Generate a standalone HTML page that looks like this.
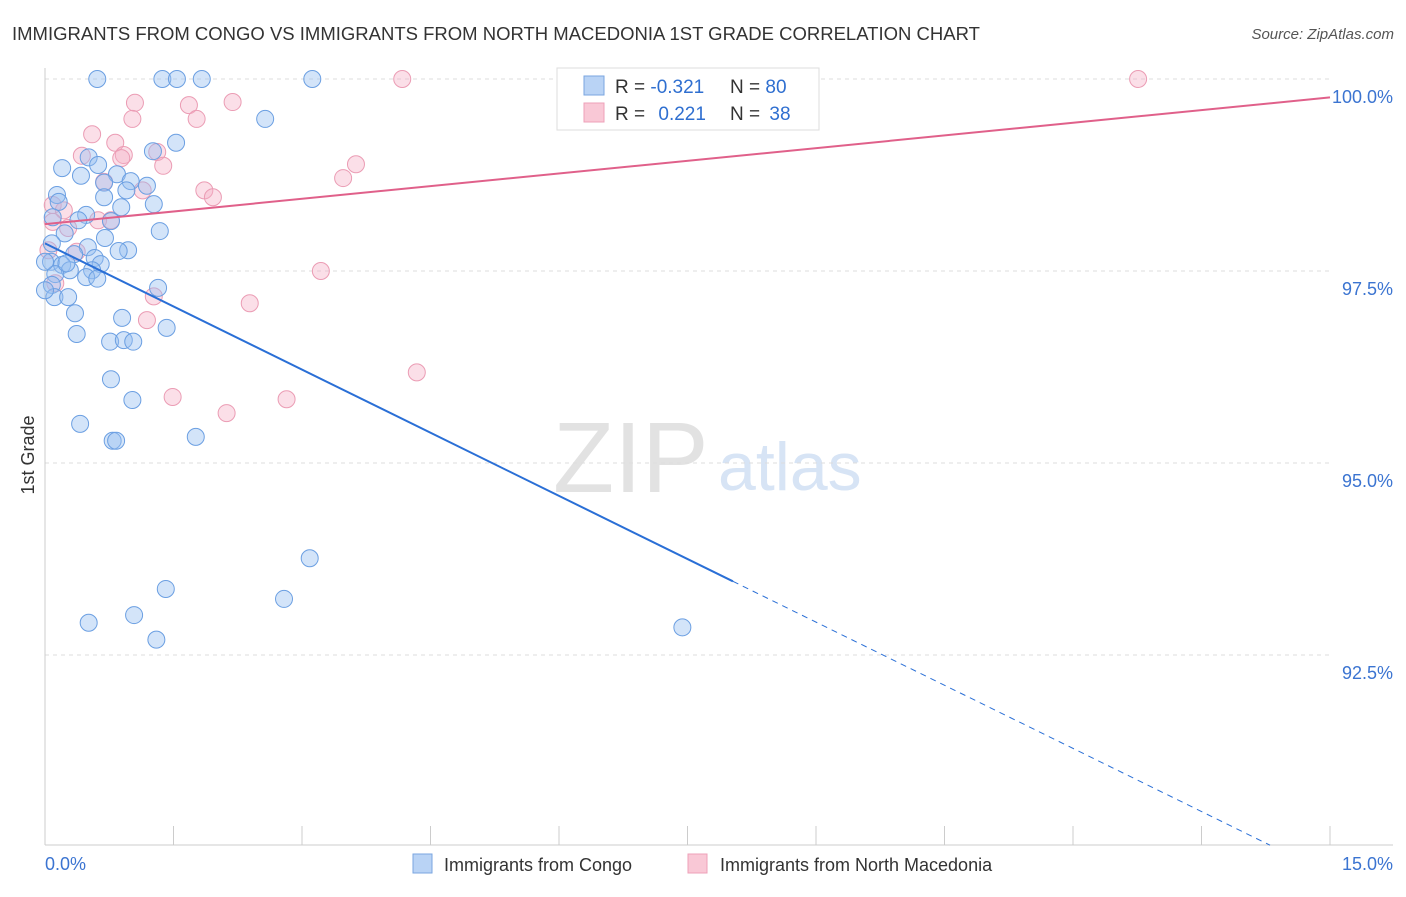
<!DOCTYPE html>
<html><head><meta charset="utf-8"><style>
body{margin:0;background:#fff;font-family:"Liberation Sans",sans-serif}
svg text{font-family:"Liberation Sans",sans-serif}
</style></head><body>
<svg id="chart" width="1406" height="892" viewBox="0 0 1406 892">
<text x="12" y="40" font-size="18.5" fill="#333">IMMIGRANTS FROM CONGO VS IMMIGRANTS FROM NORTH MACEDONIA 1ST GRADE CORRELATION CHART</text>
<text x="1394" y="39" font-size="15" fill="#555" font-style="italic" text-anchor="end">Source: ZipAtlas.com</text>
<g>
<text x="553" y="492" font-size="100" fill="#e2e2e2" font-family="Liberation Serif">ZIP</text>
<text x="718" y="490" font-size="68" fill="#d7e4f5">atlas</text>
</g>
<g id="grid"></g>
<g id="axes"></g>
<g id="marks"></g>
<g id="trends"></g>
<text transform="translate(34,455) rotate(-90)" font-size="18" fill="#333" text-anchor="middle">1st Grade</text>
<g>
<rect x="557" y="68" width="262" height="62" fill="#fff" stroke="#ddd"/>
<rect x="584" y="76" width="20" height="19" fill="#b9d3f5" stroke="#7aa6e0"/>
<rect x="584" y="103" width="20" height="19" fill="#f9c8d6" stroke="#eea0b8"/>
<text x="615" y="93" font-size="19" fill="#333">R = <tspan fill="#2f6fd0">-0.321</tspan></text>
<text x="730" y="93" font-size="19" fill="#333">N = <tspan fill="#2f6fd0">80</tspan></text>
<text x="615" y="120" font-size="19" fill="#333">R = <tspan fill="#2f6fd0" dx="8">0.221</tspan></text>
<text x="730" y="120" font-size="19" fill="#333">N = <tspan fill="#2f6fd0" dx="4">38</tspan></text>
</g>
<g>
<rect x="413" y="854" width="19" height="19" fill="#b9d3f5" stroke="#7aa6e0"/>
<text x="444" y="871" font-size="18" fill="#333">Immigrants from Congo</text>
<rect x="688" y="854" width="19" height="19" fill="#f9c8d6" stroke="#eea0b8"/>
<text x="720" y="871" font-size="18" fill="#333">Immigrants from North Macedonia</text>
</g>
</svg>
<script>
const yTicks=[100,97.5,95,92.5];
const yTickLabels=["100.0%","97.5%","95.0%","92.5%"];
const xTicks=[0,1.5,3,4.5,6,7.5,9,10.5,12,13.5,15];
const xTickLabels=["0.0%","15.0%"];
const congoX=[0.61,1.37,1.54,1.83,3.12,2.57,1.53,1.26,0.51,0.62,0.20,0.42,0.84,1.00,0.69,1.19,0.14,0.95,0.69,1.27,0.16,0.89,0.48,0.09,0.39,0.77,1.34,0.23,0.70,0.08,0.50,0.97,0.34,0.86,0.58,0.07,0.20,0.65,0.29,0.55,0.48,0.12,0.61,0.08,1.32,0.11,0.27,0.35,0.90,1.42,0.37,0.76,0.92,1.03,0.77,1.02,0.41,0.79,0.83,1.76,3.09,1.41,2.79,1.04,0.51,1.30,7.44,0.00,0.00,0.25];
const congoY=[100,100,100,100,100,99.48,99.17,99.06,98.98,98.88,98.84,98.74,98.76,98.67,98.65,98.61,98.49,98.55,98.46,98.37,98.40,98.33,98.23,98.20,98.16,98.15,98.02,97.99,97.93,97.86,97.81,97.77,97.72,97.76,97.67,97.62,97.58,97.59,97.51,97.51,97.42,97.46,97.40,97.32,97.28,97.16,97.16,96.95,96.89,96.76,96.68,96.58,96.60,96.58,96.09,95.82,95.51,95.29,95.29,95.34,93.76,93.36,93.23,93.02,92.92,92.70,92.86,97.62,97.25,97.60];
const macX=[4.17,8.07,12.76,1.05,1.68,2.19,1.02,1.77,0.55,0.82,1.31,0.92,0.43,0.89,1.38,3.63,3.48,0.69,1.14,1.86,1.96,0.09,0.22,0.27,0.62,0.77,0.09,0.04,0.37,3.22,0.12,1.27,2.39,1.19,4.34,1.49,2.82,2.12];
const macY=[100,100,100,99.69,99.66,99.70,99.48,99.48,99.28,99.17,99.05,99.01,99.00,98.97,98.87,98.89,98.71,98.66,98.55,98.55,98.46,98.36,98.29,98.06,98.16,98.16,98.14,97.77,97.75,97.50,97.34,97.17,97.08,96.86,96.18,95.86,95.83,95.65];
const congoTrend=[97.86,-0.548];
const macTrend=[98.11,0.110];
const congoSolidEnd=8.03;

const NS="http://www.w3.org/2000/svg";
const X=v=>45+v/15*1285;
const Y=v=>79+(100-v)/2.5*192;
function mk(tag,attrs,parent){const e=document.createElementNS(NS,tag);for(const k in attrs)e.setAttribute(k,attrs[k]);parent.appendChild(e);return e;}
const grid=document.getElementById('grid'),axes=document.getElementById('axes'),marks=document.getElementById('marks'),trends=document.getElementById('trends');
yTicks.forEach((t,i)=>{
 const l=mk('line',{x1:45,x2:1330,y1:Y(t),y2:Y(t),stroke:'#ddd','stroke-dasharray':'4,4'},grid);
 
 
 const tx=mk('text',{x:1393,y:Y(t)+24,'font-size':18,fill:'#3b74d1','text-anchor':'end'},axes);
 tx.textContent=yTickLabels[i];
 
 
});
const ax=mk('line',{x1:45,x2:1393,y1:845,y2:845,stroke:'#ccc'},axes);


const ay=mk('line',{x1:45,x2:45,y1:68,y2:845,stroke:'#ccc'},axes);


xTicks.forEach(t=>{
 const l=mk('line',{x1:X(t),x2:X(t),y1:826,y2:845,stroke:'#ccc'},axes);
 
 
});
const xl0=mk('text',{x:45,y:870,'font-size':18,fill:'#3b74d1'},axes);xl0.textContent=xTickLabels[0];


const xl1=mk('text',{x:1393,y:870,'font-size':18,fill:'#3b74d1','text-anchor':'end'},axes);xl1.textContent=xTickLabels[1];


macX.forEach((x,i)=>{
 const c=mk('circle',{cx:X(x),cy:Y(macY[i]),r:8.5,fill:'rgba(246,176,198,0.4)',stroke:'#eb9cb4','stroke-width':1},marks);
 
 
});
congoX.forEach((x,i)=>{
 const c=mk('circle',{cx:X(x),cy:Y(congoY[i]),r:8.5,fill:'rgba(150,190,240,0.42)',stroke:'#6b9fe2','stroke-width':1},marks);
 
 
});
const cy=x=>congoTrend[0]+congoTrend[1]*x;
const my=x=>macTrend[0]+macTrend[1]*x;
const t1=mk('line',{x1:X(0),y1:Y(cy(0)),x2:X(congoSolidEnd),y2:Y(cy(congoSolidEnd)),stroke:'#2a6fd6','stroke-width':2},trends);


const xe=14.3;
const t2=mk('line',{x1:X(congoSolidEnd),y1:Y(cy(congoSolidEnd)),x2:X(xe),y2:Y(cy(xe)),stroke:'#2a6fd6','stroke-width':1,'stroke-dasharray':'6,5'},trends);


const t3=mk('line',{x1:X(0),y1:Y(my(0)),x2:X(15),y2:Y(my(15)),stroke:'#e0608a','stroke-width':2},trends);


</script>
</body></html>
